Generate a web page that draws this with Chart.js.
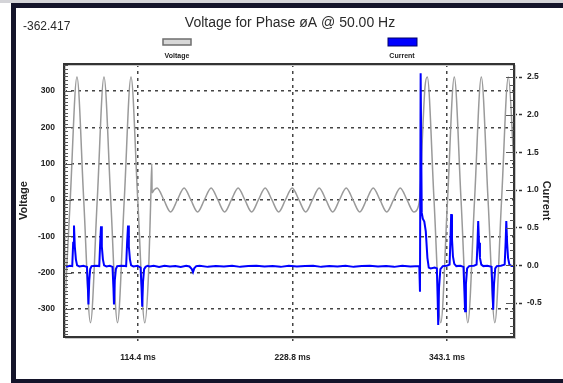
<!DOCTYPE html>
<html>
<head>
<meta charset="utf-8">
<script src="https://cdn.jsdelivr.net/npm/chart.js@4/dist/chart.umd.min.js"></script>
<style>
  html, body { margin: 0; padding: 0; background: #fff; }
  #wrap { width: 563px; height: 383px; }
</style>
</head>
<body>
<div id="wrap"><canvas id="phaseChart" width="563" height="383"></canvas></div>
<script>
const titleText = 'Voltage for Phase øA @ 50.00 Hz';
const cursorValue = '-362.417';

// tick values
const timeTicks = [114.4, 228.8, 343.1];
const voltageTicks = [-300, -200, -100, 0, 100, 200, 300];
const currentTicks = [-0.5, 0.0, 0.5, 1.0, 1.5, 2.0, 2.5];

// voltage trace (ms, V)
const voltageTime = [
  59.6, 64.2, 69.2, 74.2, 79.2, 84.2, 89.2, 94.2, 99.2, 104.2, 109.2, 114.2, 119.4,
  122.2, 123.8, 124.6, 124.8, 126.4, 128.5, 133.5, 138.5, 143.5, 148.5, 153.5, 158.5,
  163.5, 168.5, 173.5, 178.5, 183.5, 188.5, 193.5, 198.5, 203.5, 208.5, 213.5, 218.5,
  223.5, 228.5, 233.5, 238.5, 243.5, 248.5, 253.5, 258.5, 263.5, 268.5, 273.5, 278.5,
  283.5, 288.5, 293.5, 298.5, 303.5, 308.5, 313.5, 318.5, 321.5, 323.2, 325.0, 326.8,
  328.5, 333.5, 338.5, 343.5, 348.5, 353.5, 358.5, 363.5, 368.5, 373.5, 378.5, 383.5,
  388.5, 392.7
];
const voltageValues = [
  -335, 0, 338, 0, -338, 0, 338, 0, -338, 0, 338, 0, -338,
  -200, 0, 100, 20, 28, 33, 0, -33, 0, 33, 0, -33,
  0, 33, 0, -33, 0, 33, 0, -33, 0, 33, 0, -33,
  0, 33, 0, -33, 0, 33, 0, -33, 0, 33, 0, -33,
  0, 33, 0, -33, 0, 33, 0, -33, -22, 20, 180, 310,
  338, 0, -338, 0, 338, 0, -338, 0, 338, 0, -338, 0,
  338, 95
];

// current trace (ms, A)
const currentTime = [
  59.6, 62, 64, 65.7, 66.4, 67.0, 67.6, 68.4, 69.3, 71, 74,
  76.6, 77.3, 77.7, 78.3, 79.0, 80, 83,
  85.7, 86.4, 87.0, 87.6, 88.4, 89.3, 91, 93.5,
  95.5, 96.2, 96.6, 97.2, 98, 99, 102,
  105.6, 106.3, 107.0, 107.6, 108.4, 109.3, 111, 114,
  116.3, 117.0, 117.5, 118.1, 118.9, 120, 121.5,
  123, 126, 130, 134, 138, 142, 146, 150, 152.5, 154.2, 155.1, 156, 157.5,
  160, 166, 172, 178, 184, 190, 196, 202, 208, 214, 220, 226, 232, 238, 244,
  250, 256, 262, 268, 274, 280, 286, 292, 298, 304, 310, 316, 322.6,
  323.1, 323.6, 324.4, 325.2, 326.3, 327.4, 328.6, 329.6, 331, 334,
  335.6, 336.2, 336.6, 337.2, 338.2, 340, 343,
  345, 345.7, 346.2, 346.8, 347.5, 348.5, 350, 353,
  355.3, 356.0, 356.5, 357.1, 358, 359.5, 363,
  365, 365.7, 366.2, 366.8, 367.5, 368.5, 370, 373,
  376.1, 376.8, 377.3, 377.9, 378.8, 380, 383,
  385.8, 386.5, 387.0, 387.6, 388.3, 389.3, 391, 392.7
];
const currentValues = [
  -0.01, -0.015, -0.005, -0.01, 0.3, 0.53, 0.25, 0.08, 0.0, -0.015, -0.005,
  -0.02, -0.3, -0.52, -0.2, -0.05, -0.01, -0.005,
  -0.01, 0.3, 0.52, 0.25, 0.08, 0.0, -0.015, -0.005,
  -0.02, -0.3, -0.52, -0.2, -0.05, -0.01, -0.005,
  -0.01, 0.3, 0.53, 0.25, 0.08, 0.0, -0.015, -0.005,
  -0.03, -0.3, -0.55, -0.22, -0.05, -0.02, -0.005,
  -0.015, -0.005, -0.02, -0.005, -0.015, -0.01, -0.02, -0.005, -0.015, -0.05, -0.09, -0.04, -0.01,
  -0.005, -0.02, -0.01, -0.015, -0.005, -0.02, -0.01, -0.005, -0.015, -0.01, -0.02, -0.005, -0.015, -0.01, -0.005,
  -0.02, -0.01, -0.015, -0.005, -0.02, -0.01, -0.005, -0.015, -0.01, -0.02, -0.005, -0.015, -0.01,
  -0.35, 2.55, 0.7, 0.62, 0.58, 0.45, 0.1, -0.03, -0.04, -0.03,
  -0.04, -0.45, -0.79, -0.3, -0.05, -0.01, -0.005,
  0.01, 0.35, 0.68, 0.35, 0.12, 0.02, -0.01, -0.005,
  -0.02, -0.35, -0.61, -0.25, -0.04, -0.01, -0.005,
  0.01, 0.3, 0.59, 0.3, 0.1, 0.01, -0.01, -0.005,
  -0.02, -0.35, -0.59, -0.25, -0.04, -0.01, -0.005,
  0.01, 0.3, 0.59, 0.3, 0.1, 0.01, -0.01, -0.01
];

const labelFont = { family: '"Liberation Sans", Arial, sans-serif', size: 8.5, weight: 'bold' };
const titleFont = { family: '"Liberation Sans", Arial, sans-serif', size: 11, weight: 'bold' };

const scopeDecor = {
  id: 'scopeDecor',
  beforeDraw(chart) {
    const { ctx, width, height } = chart;
    ctx.save();
    ctx.fillStyle = '#fff';
    ctx.fillRect(0, 0, width, height);
    ctx.fillStyle = '#d4d4d8';
    ctx.fillRect(0, 0, width, 3);
    ctx.fillStyle = '#14142a';
    ctx.fillRect(11, 3, width - 11, 5);
    ctx.fillRect(11, 3, 5, height - 3);
    ctx.fillRect(11, height - 4, width - 11, 4);
    ctx.restore();
  },
  afterDraw(chart) {
    const { ctx, chartArea: a } = chart;
    const yV = chart.scales.y;
    const yC = chart.scales.y1;
    ctx.save();

    // plot frame
    ctx.strokeStyle = '#c8c8c8';
    ctx.lineWidth = 1;
    ctx.strokeRect(a.left + 1.5, a.top + 1.5, a.width, a.height);
    ctx.strokeStyle = '#333';
    ctx.lineWidth = 2;
    ctx.strokeRect(a.left, a.top, a.width, a.height);

    // minor ticks on the inner side of both value axes
    ctx.lineWidth = 1;
    ctx.strokeStyle = '#555';
    ctx.beginPath();
    for (let v = -370; v <= 370; v += 10) {
      const p = Math.round(yV.getPixelForValue(v)) + 0.5;
      ctx.moveTo(a.left, p);
      ctx.lineTo(a.left + (v % 100 === 0 ? 8 : 4), p);
    }
    for (let k = -9; k <= 26; k++) {
      const p = Math.round(yC.getPixelForValue(k / 10)) + 0.5;
      ctx.moveTo(a.right, p);
      ctx.lineTo(a.right - (k % 5 === 0 ? 8 : 4), p);
    }
    ctx.stroke();

    // title and cursor value
    ctx.fillStyle = '#2a2a2a';
    ctx.textBaseline = 'alphabetic';
    ctx.font = '14px "Liberation Sans", Arial, sans-serif';
    ctx.textAlign = 'center';
    ctx.fillText(titleText, 290, 27);
    ctx.font = '12px "Liberation Sans", Arial, sans-serif';
    ctx.textAlign = 'left';
    ctx.fillText(cursorValue, 23, 30);

    // legend: swatch above name
    const slots = [177, 402];
    chart.data.datasets.forEach((ds, i) => {
      const cx = slots[i];
      if (i === 0) {
        ctx.fillStyle = '#d8d8d8';
        ctx.fillRect(cx - 14, 39, 28, 6);
        ctx.strokeStyle = '#6e6e6e';
        ctx.lineWidth = 1.5;
        ctx.strokeRect(cx - 14, 39, 28, 6);
      } else {
        ctx.fillStyle = ds.borderColor;
        ctx.fillRect(cx - 14, 38, 29, 8);
        ctx.strokeStyle = '#00006a';
        ctx.lineWidth = 1;
        ctx.strokeRect(cx - 14, 38, 29, 8);
      }
      ctx.fillStyle = '#222';
      ctx.font = 'bold 7px "Liberation Sans", Arial, sans-serif';
      ctx.textAlign = 'center';
      ctx.fillText(ds.label, cx, 58);
    });
    ctx.restore();
  }
};

new Chart(document.getElementById('phaseChart'), {
  type: 'line',
  data: {
    datasets: [
      {
        label: 'Voltage',
        data: voltageTime.map((t, i) => ({ x: t, y: voltageValues[i] })),
        yAxisID: 'y',
        borderColor: '#9a9a9a',
        borderWidth: 1.5,
        pointRadius: 0,
        cubicInterpolationMode: 'monotone',
        order: 2
      },
      {
        label: 'Current',
        data: currentTime.map((t, i) => ({ x: t, y: currentValues[i] })),
        yAxisID: 'y1',
        borderColor: '#0000ff',
        borderWidth: 2,
        pointRadius: 0,
        tension: 0,
        order: 1
      }
    ]
  },
  options: {
    responsive: false,
    animation: false,
    events: [],
    layout: { padding: { top: 64, left: 0, right: 0, bottom: 0 } },
    plugins: { legend: { display: false }, title: { display: false }, tooltip: { enabled: false } },
    scales: {
      x: {
        type: 'linear',
        min: 59.6,
        max: 392.7,
        afterBuildTicks: s => { s.ticks = timeTicks.map(v => ({ value: v })); },
        afterFit: s => { s.height = 46; },
        ticks: {
          callback: v => v.toFixed(1) + ' ms',
          font: labelFont, color: '#222', padding: 12, maxRotation: 0, autoSkip: false
        },
        grid: { color: '#444', lineWidth: 1.5, drawTicks: true, tickLength: 4, tickColor: '#444' },
        border: { display: false, dash: [3, 4] }
      },
      y: {
        position: 'left',
        min: -377,
        max: 374,
        afterBuildTicks: s => { s.ticks = voltageTicks.map(v => ({ value: v })); },
        afterFit: s => { s.width = 64; },
        ticks: { callback: v => String(v), font: labelFont, color: '#222', padding: 9 },
        grid: { color: '#444', lineWidth: 1.5, drawTicks: false },
        border: { display: false, dash: [3, 4] },
        title: { display: true, text: 'Voltage', font: titleFont, color: '#222', padding: { top: 17, bottom: 0 } }
      },
      y1: {
        position: 'right',
        min: -0.951,
        max: 2.673,
        afterBuildTicks: s => { s.ticks = currentTicks.map(v => ({ value: v })); },
        afterFit: s => { s.width = 49; },
        ticks: { callback: v => v.toFixed(1), font: labelFont, color: '#222', padding: 4 },
        grid: {
          drawOnChartArea: false, drawTicks: true, tickLength: 9,
          tickColor: '#333', tickWidth: 1.5, tickBorderDash: [3, 2]
        },
        border: { display: false },
        title: { display: true, text: 'Current', font: titleFont, color: '#222', padding: { top: 10, bottom: 0 } }
      }
    }
  },
  plugins: [scopeDecor]
});
</script>
</body>
</html>
